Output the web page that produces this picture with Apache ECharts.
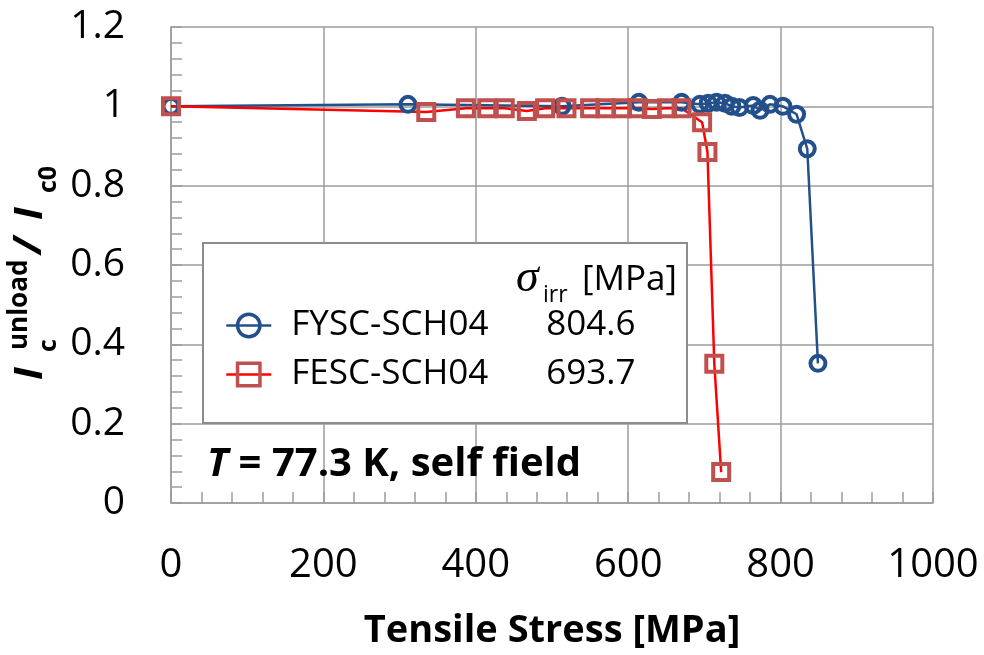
<!DOCTYPE html>
<html><head><meta charset="utf-8">
<script src="https://cdn.jsdelivr.net/npm/echarts@6/dist/echarts.min.js"></script>
<style>html,body{margin:0;padding:0;background:#fff}#c{width:984px;height:655px}</style>
</head><body><div id="c"></div>
<script>
// Tensile stress [MPa] and normalized Ic for each sample
const stressFYSC = [0, 311, 513, 614, 670, 694, 705, 716, 727, 736, 746, 764, 773, 786, 803, 821, 835, 849];
const icFYSC     = [1.0, 1.005, 1.0, 1.01, 1.01, 1.005, 1.008, 1.01, 1.008, 1.0, 0.997, 1.002, 0.99, 1.005, 1.0, 0.98, 0.893, 0.352];
const stressFESC = [0, 335, 387, 415, 438, 467, 491, 519, 550, 570, 592, 612, 631, 651, 670, 697, 704, 713, 722];
const icFESC     = [1.0, 0.986, 0.995, 0.995, 0.995, 0.988, 0.995, 0.995, 0.995, 0.995, 0.995, 0.995, 0.993, 0.995, 0.995, 0.96, 0.885, 0.351, 0.078];
const seriesNames = ['FYSC-SCH04', 'FESC-SCH04'];
const sigmaIrr = ['804.6', '693.7'];
const xRange = [0, 1000, 200];
const yRange = [0, 1.2, 0.2];

const FONT = 'Open Sans';
const GRIDC = '#9c9c9c';
const BLUE = '#23508b';
const RED_LINE = '#ff0000';
const RED_MK = '#c0504d';

function pairs(xs, ys) { return xs.map((x, i) => [x, ys[i]]); }

const chart = echarts.init(document.getElementById('c'), null, {renderer: 'canvas'});
const axisCommon = {
  axisLine: {show: true, lineStyle: {color: GRIDC, width: 1.5}},
  splitLine: {show: true, lineStyle: {color: GRIDC, width: 1.5}},
  axisTick: {show: true, inside: true, length: 11, lineStyle: {color: GRIDC, width: 1.5}},
  minorTick: {show: true, splitNumber: 5, length: 11, lineStyle: {color: GRIDC, width: 1.5}},
  minorSplitLine: {show: false}
};
const option = {
  animation: false,
  backgroundColor: '#fff',
  grid: {left: 171, right: 51, top: 27, bottom: 147, containLabel: false},
  xAxis: Object.assign({
    type: 'value', min: xRange[0], max: xRange[1], interval: xRange[2],
    axisLabel: {color: '#000', fontFamily: FONT, fontSize: 40, margin: 43, formatter: v => String(v)},
    name: 'Tensile Stress [MPa]', nameLocation: 'middle', nameGap: 109,
    nameTextStyle: {color: '#000', fontFamily: FONT, fontSize: 38, fontWeight: 'bold'}
  }, axisCommon),
  yAxis: Object.assign({
    type: 'value', min: yRange[0], max: yRange[1], interval: yRange[2],
    axisLabel: {color: '#000', fontFamily: FONT, fontSize: 39, margin: 46, formatter: v => String(Math.round(v * 10) / 10)}
  }, axisCommon),
  legend: {
    show: true, orient: 'vertical', left: 225, top: 308, padding: 0,
    itemWidth: 45, itemHeight: 28, itemGap: 14,
    data: seriesNames,
    itemStyle: {borderWidth: 3.5},
    lineStyle: {width: 2.5},
    formatter: function (name) {
      const i = seriesNames.indexOf(name);
      return '{n|' + name + '}{v|' + sigmaIrr[i] + '}';
    },
    textStyle: {
      padding: [0, 0, 0, 15],
      rich: {
        n: {fontFamily: FONT, fontSize: 35, color: '#000', width: 255, lineHeight: 35},
        v: {fontFamily: FONT, fontSize: 35, color: '#000', lineHeight: 35}
      }
    }
  },
  graphic: [
    {type: 'rect', z: 3, shape: {x: 203, y: 243, width: 484, height: 180},
     style: {fill: '#fff', stroke: '#8c8c8c', lineWidth: 2}},
    {type: 'text', z: 5, x: 516, y: 279,
     style: {text: 'σ', fontFamily: 'Liberation Serif', fontStyle: 'italic', fontSize: 46, fill: '#000', verticalAlign: 'middle', align: 'left'}},
    {type: 'text', z: 5, x: 543, y: 295,
     style: {text: 'irr', fontFamily: FONT, fontSize: 23, fill: '#000', verticalAlign: 'middle', align: 'left'}},
    {type: 'text', z: 5, x: 677, y: 280,
     style: {text: '[MPa]', fontFamily: FONT, fontSize: 35, fill: '#000', verticalAlign: 'middle', align: 'right'}},
    {type: 'text', z: 5, x: 207, y: 465,
     style: {text: '{it|T}{b| = 77.3 K, self field}', verticalAlign: 'middle', align: 'left',
       rich: {
         it: {fontFamily: FONT, fontSize: 40, fontWeight: 'bold', fontStyle: 'italic', fill: '#000'},
         b: {fontFamily: FONT, fontSize: 40, fontWeight: 'bold', fill: '#000'}
       }}},
    {type: 'group', x: 0, y: 0, rotation: Math.PI / 2, children: [
      {type: 'text', x: -380, y: 31, style: {text: 'I', fontFamily: FONT, fontSize: 40, fontWeight: 'bold', fontStyle: 'italic', fill: '#000', verticalAlign: 'middle', align: 'left'}},
      {type: 'text', x: -352, y: 49, style: {text: 'c', fontFamily: FONT, fontSize: 25, fontWeight: 'bold', fill: '#000', verticalAlign: 'middle', align: 'left'}},
      {type: 'text', x: -350, y: 20, style: {text: 'unload', fontFamily: FONT, fontSize: 26, fontWeight: 'bold', fill: '#000', verticalAlign: 'middle', align: 'left'}},
      {type: 'text', x: -254, y: 30, style: {text: '/', fontFamily: FONT, fontSize: 40, fontWeight: 'bold', fontStyle: 'italic', fill: '#000', verticalAlign: 'middle', align: 'left'}},
      {type: 'text', x: -220, y: 31, style: {text: 'I', fontFamily: FONT, fontSize: 40, fontWeight: 'bold', fontStyle: 'italic', fill: '#000', verticalAlign: 'middle', align: 'left'}},
      {type: 'text', x: -193, y: 49, style: {text: 'c0', fontFamily: FONT, fontSize: 25, fontWeight: 'bold', fill: '#000', verticalAlign: 'middle', align: 'left'}}
    ]}
  ],
  series: [
    {
      name: seriesNames[0], type: 'line', data: pairs(stressFYSC, icFYSC),
      symbol: 'circle', symbolSize: 15, showAllSymbol: true,
      lineStyle: {color: BLUE, width: 2.5},
      itemStyle: {color: 'transparent', borderColor: BLUE, borderWidth: 4},
      emphasis: {disabled: true}, z: 2
    },
    {
      name: seriesNames[1], type: 'line', data: pairs(stressFESC, icFESC),
      symbol: 'rect', symbolSize: 16, showAllSymbol: true,
      lineStyle: {color: RED_LINE, width: 2.5},
      itemStyle: {color: 'transparent', borderColor: RED_MK, borderWidth: 4},
      emphasis: {disabled: true}, z: 2
    }
  ]
};
chart.setOption(option);
</script>
</body></html>
